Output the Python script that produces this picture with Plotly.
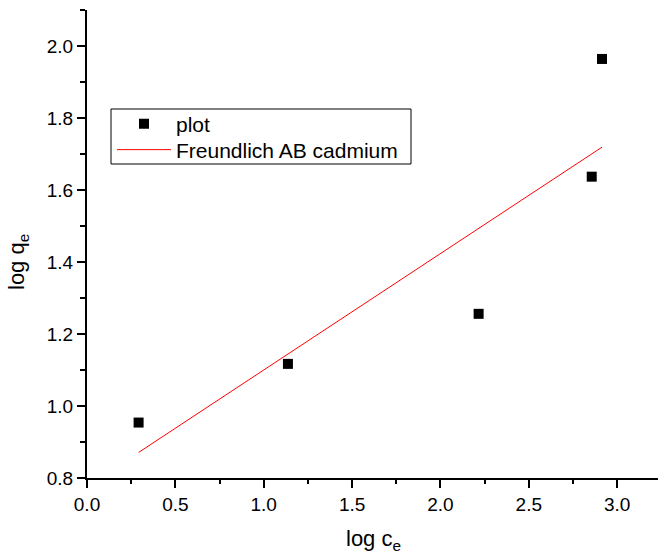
import plotly.graph_objects as go

# data
log_ce = [0.292, 1.137, 2.216, 2.856, 2.914]
log_qe = [0.954, 1.117, 1.256, 1.637, 1.964]

fit_x = [0.292, 2.914]
fit_y = [0.871, 1.719]

x_ticks = [0.0, 0.5, 1.0, 1.5, 2.0, 2.5, 3.0]
y_ticks = [0.8, 1.0, 1.2, 1.4, 1.6, 1.8, 2.0]

FONT = "Liberation Sans, Arial, sans-serif"

W, H = 658, 558
L, T, B = 87, 10, 80
PLOT_W = W - L
PLOT_H = H - T - B
X0_PAGE, Y0_PAGE = 87, 478   # plot-area bottom-left in page pixels


def px(xp):
    return (xp - X0_PAGE) / PLOT_W


def py(yp):
    return (Y0_PAGE - yp) / PLOT_H


fig = go.Figure()
fig.add_trace(go.Scatter(
    x=log_ce, y=log_qe, mode="markers", name="plot",
    marker=dict(symbol="square", size=10, color="black"),
    legend="legend",
))
fig.add_trace(go.Scatter(
    x=fit_x, y=fit_y, mode="lines", name="Freundlich AB cadmium",
    line=dict(color="red", width=1),
    legend="legend2",
))

axis_common = dict(
    showgrid=False, zeroline=False, showline=True, linecolor="black", linewidth=2,
    ticks="outside", ticklen=8, tickwidth=1.5, tickcolor="black",
    tickfont=dict(family=FONT, size=19, color="black"),
    mirror=False, automargin=False,
)

legend_common = dict(
    xanchor="left", yanchor="middle", borderwidth=0, bgcolor="rgba(0,0,0,0)",
    font=dict(family=FONT, size=21, color="black"), itemwidth=54,
)

fig.update_layout(
    width=W, height=H,
    margin=dict(l=L, r=0, t=T, b=B),
    paper_bgcolor="white", plot_bgcolor="white",
    font=dict(family=FONT, color="black"),
    showlegend=True,
    legend=dict(legend_common, x=px(112), y=py(124)),
    legend2=dict(legend_common, x=px(112), y=py(150)),
    shapes=[dict(
        type="rect", xref="paper", yref="paper",
        x0=px(111), x1=px(411), y0=py(164), y1=py(109),
        line=dict(color="black", width=1), fillcolor="white", layer="below",
    )],
    xaxis=dict(
        axis_common, range=[0, 3.231], tickvals=x_ticks,
        ticktext=[f"{v:.1f}" for v in x_ticks],
        minor=dict(dtick=0.25, tick0=0, ticks="outside", ticklen=4, tickwidth=1.5, tickcolor="black"),
    ),
    yaxis=dict(
        axis_common, range=[0.8, 2.1], tickvals=y_ticks,
        ticktext=[f"{v:.1f}" for v in y_ticks],
        minor=dict(dtick=0.1, tick0=0.8, ticks="outside", ticklen=5, tickwidth=1.5, tickcolor="black"),
    ),
    annotations=[
        dict(
            text="log q<sub>e</sub>", xref="paper", yref="paper",
            x=px(18), y=py(262), textangle=-90,
            showarrow=False, xanchor="center", yanchor="middle",
            font=dict(family=FONT, size=22, color="black"),
        ),
        dict(
            text="log c<sub>e</sub>", xref="paper", yref="paper",
            x=px(373), y=py(540),
            showarrow=False, xanchor="center", yanchor="middle",
            font=dict(family=FONT, size=22, color="black"),
        ),
    ],
)

fig.write_html(
    "out.html",
    config={"displayModeBar": False},
    post_script="document.body.style.margin='0';",
)
